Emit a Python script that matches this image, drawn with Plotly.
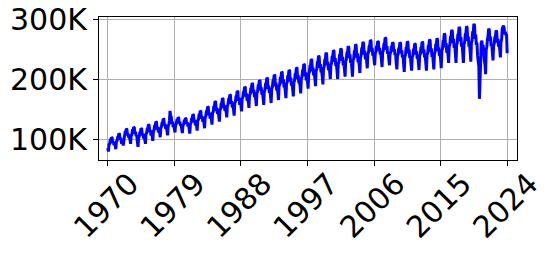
import plotly.graph_objects as go

# Monthly values (thousands)
vals_1970s = [
    86, 80, 92, 93, 99, 99, 104, 103, 94, 97, 91, 92,
    90, 84, 97, 98, 104, 105, 110, 109, 100, 103, 96, 97,
    97, 90, 104, 105, 112, 112, 118, 117, 107, 110, 103, 104,
    100, 93, 107, 108, 115, 115, 121, 120, 110, 113, 106, 107,
    96, 88, 103, 105, 112, 113, 119, 118, 107, 110, 102, 103,
    101, 93, 109, 111, 118, 119, 125, 124, 112, 116, 107, 109,
    106, 98, 114, 116, 123, 124, 130, 129, 117, 121, 112, 114,
    112, 104, 119, 121, 128, 129, 135, 134, 123, 126, 118, 119,
    115, 107, 123, 125, 132, 148, 139, 138, 126, 130, 121, 123,
    118, 112, 125, 126, 132, 132, 137, 136, 127, 130, 123, 125,
]
vals_1980s = [
    117, 111, 124, 125, 131, 131, 136, 135, 126, 129, 122, 124,
    118, 110, 126, 128, 135, 136, 142, 141, 129, 133, 124, 126,
    123, 115, 132, 133, 141, 141, 148, 147, 135, 139, 130, 132,
    128, 119, 137, 139, 147, 148, 155, 154, 141, 145, 135, 137,
    135, 125, 145, 146, 155, 156, 164, 163, 148, 153, 143, 145,
    140, 130, 150, 151, 160, 161, 169, 168, 153, 158, 148, 150,
    147, 137, 156, 158, 167, 167, 175, 174, 160, 164, 154, 156,
    150, 140, 161, 163, 172, 173, 181, 180, 165, 170, 158, 161,
    157, 147, 168, 170, 179, 180, 188, 187, 172, 177, 165, 168,
    163, 153, 174, 176, 185, 186, 194, 193, 178, 183, 171, 174,
]
vals_1990s = [
    167, 156, 178, 180, 190, 190, 199, 198, 182, 187, 175, 178,
    169, 158, 181, 183, 193, 194, 203, 202, 185, 190, 178, 181,
    173, 161, 185, 187, 198, 199, 208, 207, 189, 195, 182, 185,
    178, 166, 190, 192, 203, 204, 213, 212, 194, 200, 187, 190,
    181, 169, 193, 195, 206, 207, 216, 215, 197, 203, 190, 193,
    184, 172, 196, 198, 209, 210, 220, 219, 201, 207, 194, 196,
    189, 177, 202, 204, 215, 216, 226, 225, 206, 212, 199, 202,
    197, 185, 210, 212, 223, 224, 234, 233, 214, 220, 207, 210,
    202, 189, 215, 217, 229, 230, 240, 238, 220, 226, 212, 215,
    205, 192, 219, 221, 233, 234, 245, 243, 224, 230, 216, 219,
]
vals_2000s = [
    213, 201, 225, 227, 238, 239, 249, 248, 230, 236, 223, 225,
    214, 201, 227, 229, 241, 242, 252, 250, 232, 238, 224, 227,
    218, 205, 231, 233, 245, 246, 256, 254, 236, 242, 228, 231,
    219, 205, 232, 235, 247, 248, 259, 257, 237, 244, 229, 232,
    224, 211, 237, 240, 252, 253, 263, 261, 242, 248, 234, 237,
    231, 219, 243, 245, 256, 257, 266, 265, 247, 253, 240, 243,
    234, 224, 244, 246, 255, 256, 264, 263, 248, 253, 242, 244,
    233, 221, 246, 248, 259, 260, 270, 269, 250, 256, 243, 246,
    234, 224, 243, 245, 254, 254, 262, 261, 247, 251, 241, 243,
    228, 217, 240, 242, 252, 253, 262, 261, 244, 249, 237, 240,
]
vals_2010s = [
    226, 213, 239, 241, 253, 254, 264, 262, 244, 250, 236, 239,
    226, 215, 238, 240, 250, 251, 260, 259, 242, 247, 235, 238,
    228, 216, 240, 242, 253, 254, 263, 262, 244, 250, 237, 240,
    228, 215, 241, 244, 256, 257, 267, 265, 246, 252, 238, 241,
    230, 217, 243, 246, 258, 259, 269, 267, 248, 254, 240, 243,
    234, 219, 248, 251, 264, 265, 277, 275, 254, 261, 245, 248,
    242, 228, 256, 258, 271, 272, 283, 281, 261, 268, 253, 256,
    243, 228, 258, 261, 275, 276, 288, 286, 264, 271, 255, 258,
    243, 228, 259, 262, 276, 277, 289, 287, 265, 272, 255, 259,
    246, 230, 262, 265, 279, 280, 293, 291, 268, 275, 258, 262,
]
vals_2020s = [
    240, 234, 222, 168, 215, 245, 262, 265, 250, 258, 237, 232,
    225, 209, 250, 255, 268, 272, 285, 283, 265, 272, 256, 259,
    245, 232, 257, 260, 271, 272, 282, 280, 262, 268, 255, 257,
    250, 237, 263, 267, 285, 288, 290, 287, 276, 280, 274, 276,
    244,
]

values = vals_1970s + vals_1980s + vals_1990s + vals_2000s + vals_2010s + vals_2020s
x_years = [1970 + i / 12 for i in range(len(values))]

tick_years = [1970, 1979, 1988, 1997, 2006, 2015, 2024]
y_ticks = [100, 200, 300]
y_labels = ["100K", "200K", "300K"]

fig = go.Figure()
fig.add_trace(go.Scatter(x=x_years, y=values, mode="lines",
                         line=dict(color="#0000ff", width=3)))

font = dict(family="DejaVu Sans", size=30, color="black")
fig.update_layout(
    width=555, height=255,
    margin=dict(l=98.5, r=37.7, t=17.3, b=94.7, autoexpand=False),
    paper_bgcolor="white", plot_bgcolor="white",
    showlegend=False, font=font,
)
fig.update_xaxes(
    range=[1968.81, 2025.33], tickmode="array", tickvals=tick_years,
    ticktext=[str(y) for y in tick_years], tickangle=-45,
    showgrid=True, gridcolor="#b0b0b0", gridwidth=1.1,
    showline=True, linecolor="black", linewidth=1.1, mirror=True,
    ticks="outside", ticklen=5, tickcolor="black", tickwidth=1.1,
    zeroline=False, tickfont=font, ticklabelshift=22,
    ticklabelstandoff=-12, automargin=False,
)
fig.update_yaxes(
    range=[66, 304.5], tickmode="array", tickvals=y_ticks, ticktext=y_labels,
    showgrid=True, gridcolor="#b0b0b0", gridwidth=1.1,
    showline=True, linecolor="black", linewidth=1.1, mirror=True,
    ticks="outside", ticklen=5, tickcolor="black", tickwidth=1.1,
    zeroline=False, tickfont=font, automargin=False,
)
fig.write_html("out.html",
               config={"displayModeBar": False},
               post_script="document.body.style.margin='0';document.body.style.overflow='hidden';")
